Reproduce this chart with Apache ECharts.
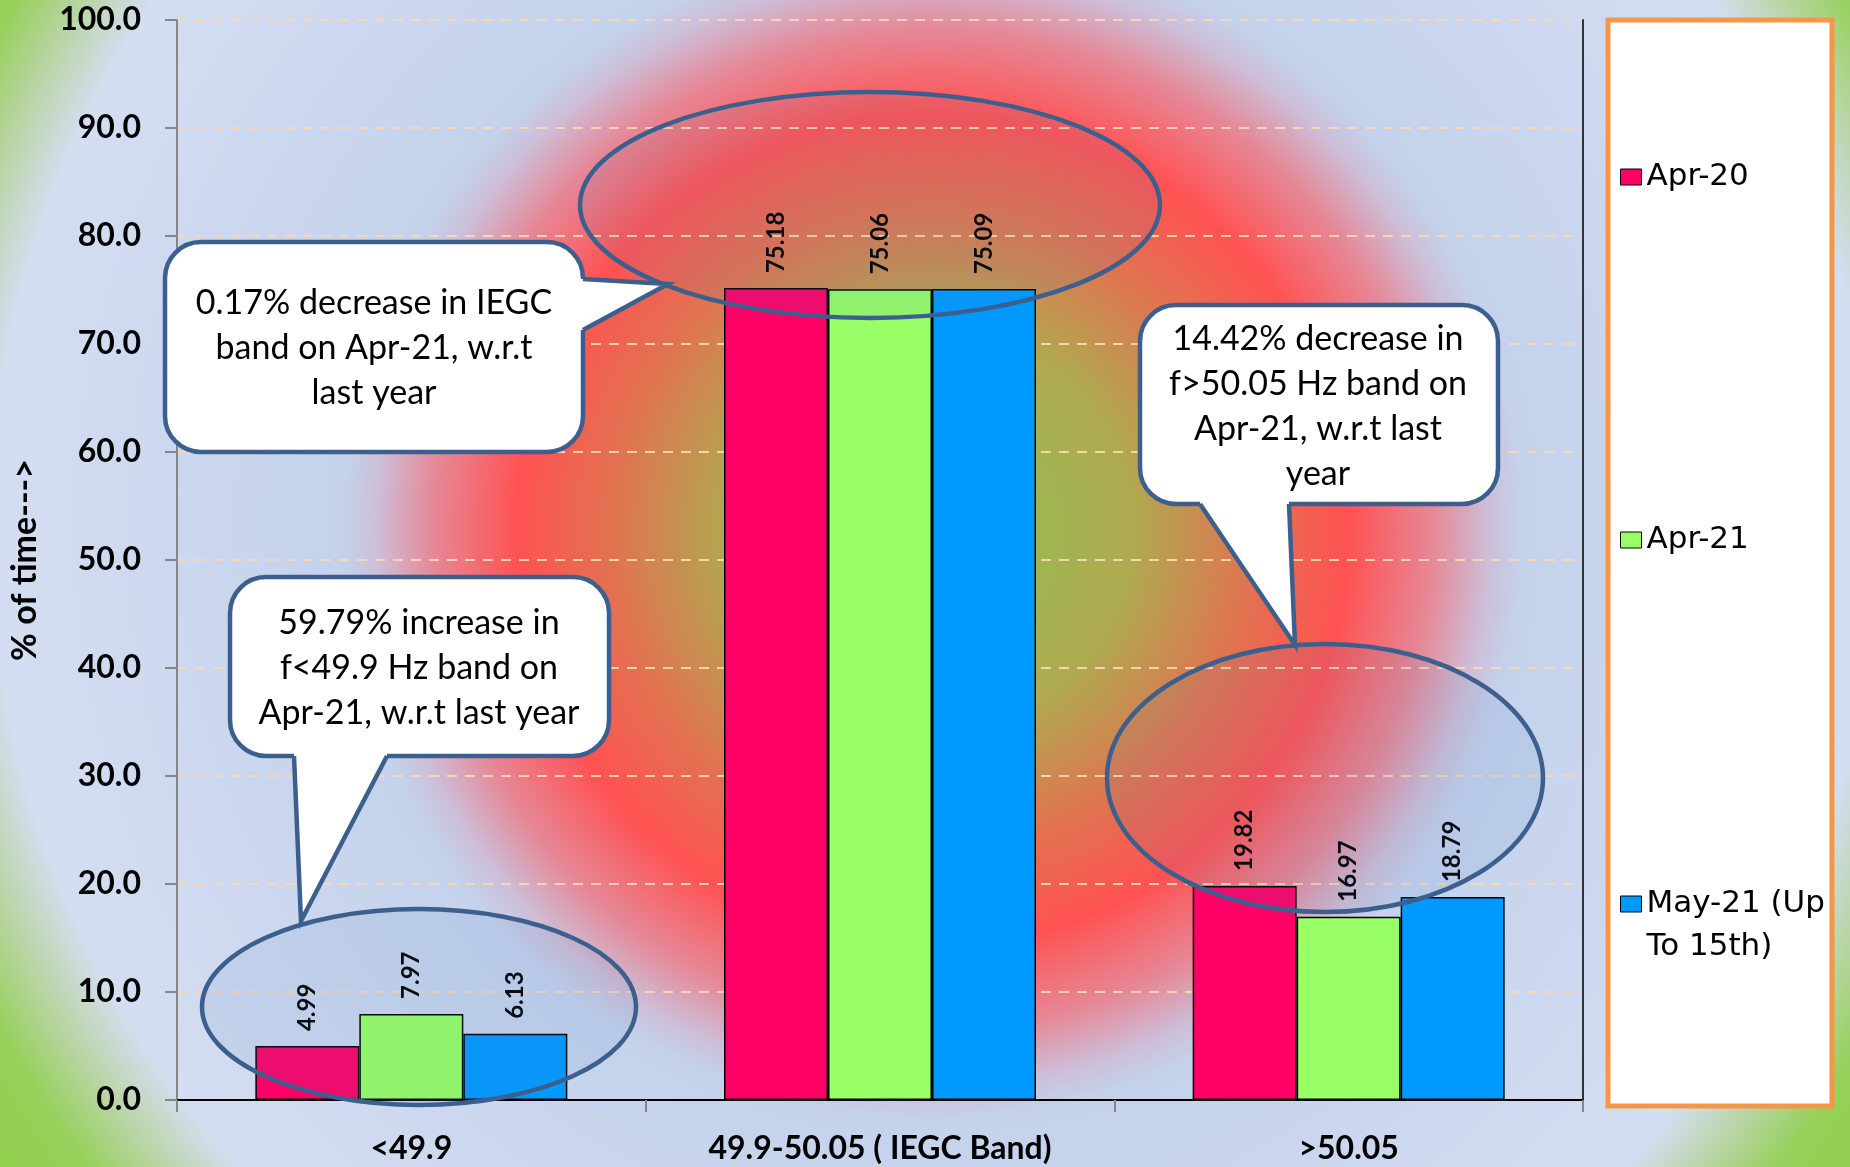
<!DOCTYPE html>
<html>
<head>
<meta charset="utf-8">
<script src="https://cdn.jsdelivr.net/npm/echarts@6/dist/echarts.min.js"></script>
<style>
html,body{margin:0;padding:0;width:1850px;height:1167px;overflow:hidden;}
#c{width:1850px;height:1167px;}
</style>
</head>
<body>
<div id="c"></div>
<script>
// ---- data ----
const categories = ['<49.9', '49.9-50.05 ( IEGC Band)', '>50.05'];
const seriesNames = ['Apr-20', 'Apr-21', 'May-21 (Up To 15th)'];
const apr20 = [4.99, 75.18, 19.82];
const apr21 = [7.97, 75.06, 16.97];
const may21 = [6.13, 75.09, 18.79];
const yMin = 0, yMax = 100, yStep = 10;
const calloutTexts = [
  '0.17% decrease in IEGC\nband on Apr-21, w.r.t\nlast year',
  '59.79% increase in\nf<49.9 Hz band on\nApr-21, w.r.t last year',
  '14.42% decrease in\nf>50.05 Hz band on\nApr-21, w.r.t last\nyear'
];

// ---- styling / layout ----
const colors = ['#FF0066', '#99FF66', '#0099FF'];
const outline = '#3D5F8E';
const ellipses = [
  {cx: 419, cy: 1007, rx: 217, ry: 98},
  {cx: 870, cy: 205, rx: 290, ry: 113},
  {cx: 1325, cy: 778, rx: 218, ry: 134}
];
const callouts = [
  {x: 165, y: 242, w: 418, h: 210, tail: [[583, 279], [668, 284], [583, 330]], inward: [-8, 0], tx: 374, ty: 348},
  {x: 230, y: 577, w: 379, h: 179, tail: [[294, 756], [301, 921], [387, 756]], inward: [0, -8], tx: 419, ty: 668},
  {x: 1140, y: 305, w: 358, h: 199, tail: [[1200, 504], [1295, 645], [1289, 504]], inward: [0, -8], tx: 1318, ty: 407}
];

const chart = echarts.init(document.getElementById('c'), null, {renderer: 'canvas'});

const bg = {
  type: 'radial', x: 933 / 1850, y: 530 / 1167, r: 1120 / 1167,
  colorStops: [
    {offset: 0, color: 'rgb(140,195,80)'},
    {offset: 0.179, color: 'rgb(175,170,80)'},
    {offset: 0.286, color: 'rgb(225,115,80)'},
    {offset: 0.371, color: 'rgb(255,82,82)'},
    {offset: 0.446, color: 'rgb(230,135,150)'},
    {offset: 0.496, color: 'rgb(205,190,215)'},
    {offset: 0.527, color: 'rgb(196,210,236)'},
    {offset: 0.839, color: 'rgb(212,222,242)'},
    {offset: 0.893, color: 'rgb(185,213,165)'},
    {offset: 0.946, color: 'rgb(150,208,90)'},
    {offset: 1, color: 'rgb(146,208,80)'}
  ]
};

const graphics = [];
// legend frame
graphics.push({type: 'rect', z: 1, shape: {x: 1608, y: 20, width: 224, height: 1086},
  style: {fill: '#ffffff', stroke: '#F79646', lineWidth: 5}});
// ellipses
ellipses.forEach(e => graphics.push({type: 'ellipse', z: 50, shape: {cx: e.cx, cy: e.cy, rx: e.rx, ry: e.ry},
  style: {fill: 'rgba(79,129,189,0.10)', stroke: outline, lineWidth: 4.5}}));
// callouts
callouts.forEach((c, i) => {
  graphics.push({type: 'rect', z: 60, shape: {x: c.x, y: c.y, width: c.w, height: c.h, r: 36},
    style: {fill: '#ffffff', stroke: outline, lineWidth: 4.5}});
  const a1 = c.tail[0], tip = c.tail[1], a2 = c.tail[2];
  graphics.push({type: 'polygon', z: 61, shape: {points: [
      a1, tip, a2, [a2[0] + c.inward[0], a2[1] + c.inward[1]], [a1[0] + c.inward[0], a1[1] + c.inward[1]]
    ]}, style: {fill: '#ffffff', stroke: null}});
  graphics.push({type: 'polyline', z: 62, shape: {points: [a1, tip, a2]},
    style: {stroke: outline, lineWidth: 4.5, fill: null, lineJoin: 'miter'}});
  graphics.push({type: 'text', z: 63, x: c.tx, y: c.ty, style: {
    text: calloutTexts[i], fontFamily: 'Lato', fontSize: 34, fill: '#000',
    align: 'center', verticalAlign: 'middle', lineHeight: 45}});
});

const legendTops = [159, 522, 839.5];
const legends = seriesNames.map((n, i) => ({
  data: [n], orient: 'vertical', left: 1620, top: legendTops[i], padding: 0,
  itemWidth: 21, itemHeight: 16, selectedMode: false, z: 5, icon: 'rect',
  itemStyle: {borderColor: '#000', borderWidth: 1},
  formatter: name => name === 'May-21 (Up To 15th)' ? ' \nMay-21 (Up\nTo 15th)' : name,
  textStyle: i === 2
    ? {fontFamily: 'DejaVu Sans', fontSize: 31, color: '#000', lineHeight: 43}
    : {fontFamily: 'DejaVu Sans', fontSize: 31, color: '#000', lineHeight: 36}
}));

const labelStyle = {
  show: true, position: 'top', rotate: 90, align: 'left', verticalAlign: 'middle', distance: 15,
  fontFamily: 'Lato', fontWeight: 'bold', fontSize: 24, color: '#000',
  formatter: p => Number(p.value).toFixed(2)
};

const option = {
  backgroundColor: bg,
  animation: false,
  grid: {left: 175, right: 267, top: 20, bottom: 67, show: false},
  legend: legends,
  xAxis: [{
    type: 'category', data: categories, position: 'bottom',
    axisLine: {show: true, lineStyle: {color: '#868686', width: 2}},
    axisTick: {show: true, length: 12, alignWithLabel: false, lineStyle: {color: '#868686', width: 2}},
    axisLabel: {interval: 0, margin: 33, fontFamily: 'Lato', fontWeight: 'bold', fontSize: 32, color: '#000'}
  }, {
    type: 'category', data: categories, position: 'top',
    axisLine: {show: true, lineStyle: {color: '#000', width: 2}},
    axisTick: {show: false}, axisLabel: {show: false}, splitLine: {show: false}
  }],
  yAxis: [{
    type: 'value', min: yMin, max: yMax, interval: yStep,
    name: '% of time--->', nameLocation: 'middle', nameGap: 135, nameRotate: 90,
    nameTextStyle: {fontFamily: 'Lato', fontWeight: 'bold', fontSize: 34, color: '#000'},
    axisLine: {show: true, lineStyle: {color: '#868686', width: 2}},
    axisTick: {show: true, length: 12, lineStyle: {color: '#868686', width: 2}},
    axisLabel: {margin: 36, fontFamily: 'Lato', fontWeight: 'bold', fontSize: 32, color: '#000',
      formatter: v => Number(v).toFixed(1)},
    splitLine: {show: true, lineStyle: {color: 'rgba(252,214,180,0.95)', width: 2, type: [10, 8]}}
  }, {
    type: 'value', min: yMin, max: yMax, interval: yStep, position: 'right',
    axisLine: {show: true, lineStyle: {color: '#333', width: 2}},
    axisTick: {show: false}, axisLabel: {show: false}, splitLine: {show: false}
  }],
  series: [apr20, apr21, may21].map((d, i) => ({
    name: seriesNames[i], type: 'bar', data: d, barWidth: 104, barGap: '0%',
    itemStyle: {color: colors[i], borderColor: '#000', borderWidth: 1.5},
    label: labelStyle
  })),
  graphic: graphics
};
chart.setOption(option);
</script>
</body>
</html>
